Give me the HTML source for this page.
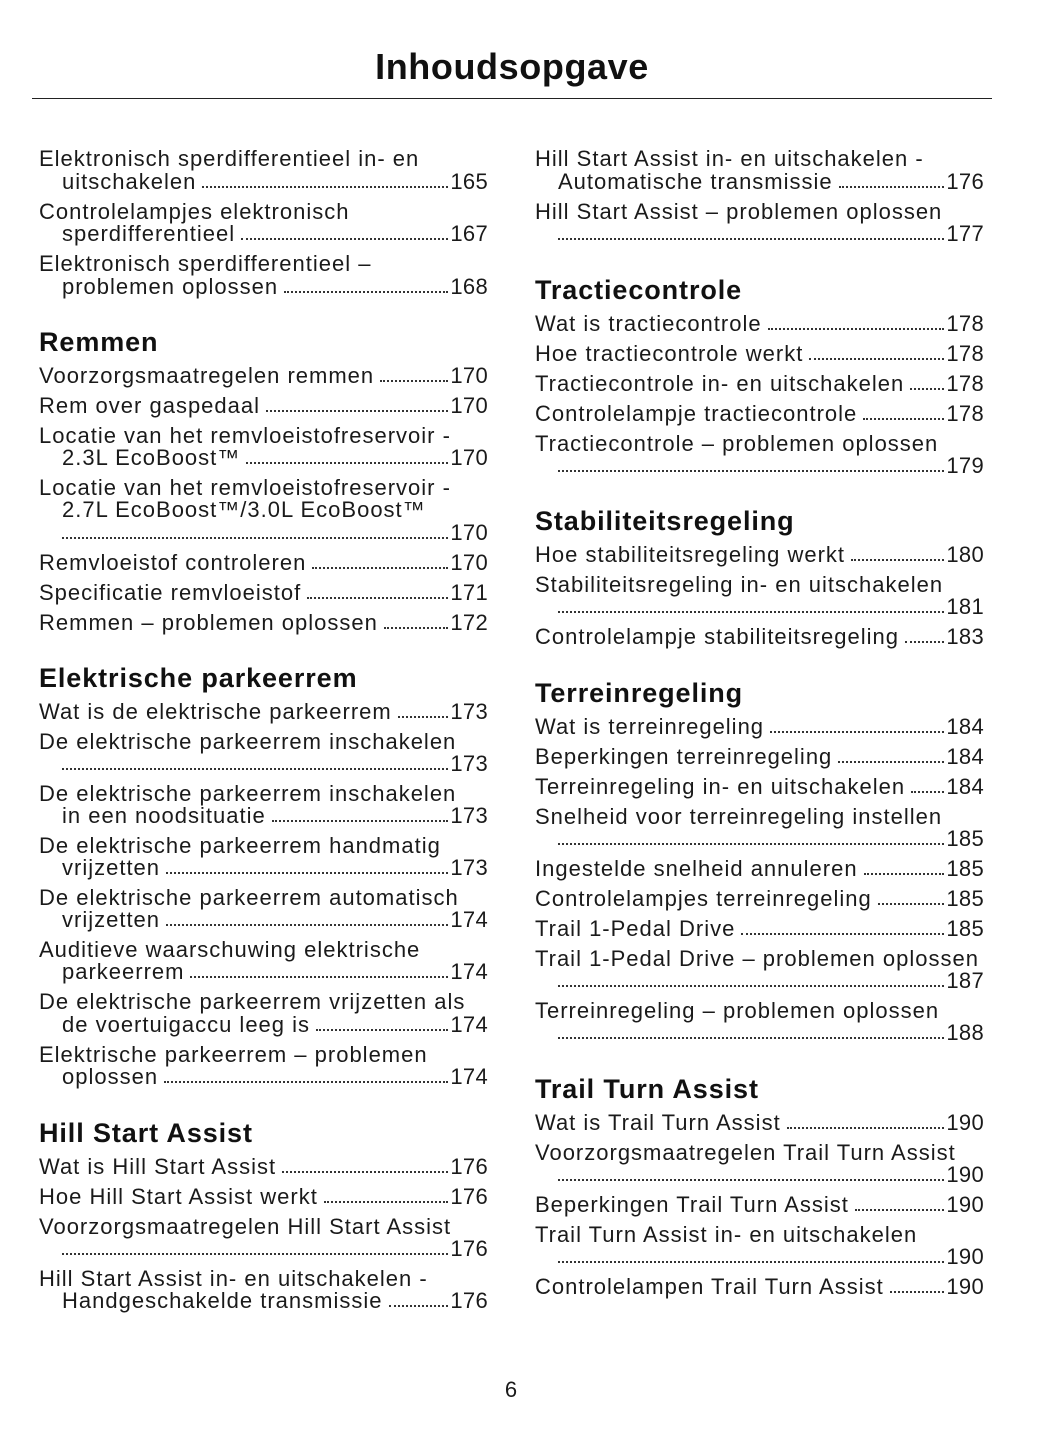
<!DOCTYPE html>
<html><head><meta charset="utf-8"><style>
body{margin:0;width:1055px;height:1448px;background:#fff;position:relative;font-family:"Liberation Sans",sans-serif;color:#1a1a1a;overflow:hidden}
.t{position:absolute;left:0;width:1024px;text-align:center;top:45px;font-size:36px;letter-spacing:0.6px;font-weight:bold;line-height:44px;color:#111}
.rule{position:absolute;left:32px;width:960px;top:98px;height:1px;background:#222}
.l{position:absolute;height:24px;line-height:24px;font-size:22px;letter-spacing:1px;white-space:nowrap;display:flex;width:449px}
.L{left:39px}.R{left:535px}
.in{padding-left:23px;width:426px}
.l span{flex:none}
.l i{flex:1;border-bottom:2px dotted #333;margin:0 2px 6px 6px}
.l b{font-weight:normal;flex:none;letter-spacing:0.3px}
.h{position:absolute;font-size:27px;letter-spacing:0.9px;font-weight:bold;line-height:30px;color:#111}
.pn{position:absolute;left:0;width:1022px;text-align:center;top:1377px;font-size:22px}
</style></head><body>
<div class="t">Inhoudsopgave</div>
<div class="rule"></div>

<div class="l L" style="top:147px">Elektronisch sperdifferentieel in- en</div>
<div class="l L in" style="top:170px"><span>uitschakelen</span><i></i><b>165</b></div>
<div class="l L" style="top:200px">Controlelampjes elektronisch</div>
<div class="l L in" style="top:222px"><span>sperdifferentieel</span><i></i><b>167</b></div>
<div class="l L" style="top:252px">Elektronisch sperdifferentieel –</div>
<div class="l L in" style="top:275px"><span>problemen oplossen</span><i></i><b>168</b></div>
<div class="h" style="left:39px;top:327px">Remmen</div>
<div class="l L" style="top:364px"><span>Voorzorgsmaatregelen remmen</span><i></i><b>170</b></div>
<div class="l L" style="top:394px"><span>Rem over gaspedaal</span><i></i><b>170</b></div>
<div class="l L" style="top:424px">Locatie van het remvloeistofreservoir -</div>
<div class="l L in" style="top:446px"><span>2.3L EcoBoost™</span><i></i><b>170</b></div>
<div class="l L" style="top:476px">Locatie van het remvloeistofreservoir -</div>
<div class="l L in" style="top:498px">2.7L EcoBoost™/3.0L EcoBoost™</div>
<div class="l L in" style="top:521px"><i style="margin-left:0"></i><b>170</b></div>
<div class="l L" style="top:551px"><span>Remvloeistof controleren</span><i></i><b>170</b></div>
<div class="l L" style="top:581px"><span>Specificatie remvloeistof</span><i></i><b>171</b></div>
<div class="l L" style="top:611px"><span>Remmen – problemen oplossen</span><i></i><b>172</b></div>
<div class="h" style="left:39px;top:663px">Elektrische parkeerrem</div>
<div class="l L" style="top:700px"><span>Wat is de elektrische parkeerrem</span><i></i><b>173</b></div>
<div class="l L" style="top:730px">De elektrische parkeerrem inschakelen</div>
<div class="l L in" style="top:752px"><i style="margin-left:0"></i><b>173</b></div>
<div class="l L" style="top:782px">De elektrische parkeerrem inschakelen</div>
<div class="l L in" style="top:804px"><span>in een noodsituatie</span><i></i><b>173</b></div>
<div class="l L" style="top:834px">De elektrische parkeerrem handmatig</div>
<div class="l L in" style="top:856px"><span>vrijzetten</span><i></i><b>173</b></div>
<div class="l L" style="top:886px">De elektrische parkeerrem automatisch</div>
<div class="l L in" style="top:908px"><span>vrijzetten</span><i></i><b>174</b></div>
<div class="l L" style="top:938px">Auditieve waarschuwing elektrische</div>
<div class="l L in" style="top:960px"><span>parkeerrem</span><i></i><b>174</b></div>
<div class="l L" style="top:990px">De elektrische parkeerrem vrijzetten als</div>
<div class="l L in" style="top:1013px"><span>de voertuigaccu leeg is</span><i></i><b>174</b></div>
<div class="l L" style="top:1043px">Elektrische parkeerrem – problemen</div>
<div class="l L in" style="top:1065px"><span>oplossen</span><i></i><b>174</b></div>
<div class="h" style="left:39px;top:1118px">Hill Start Assist</div>
<div class="l L" style="top:1155px"><span>Wat is Hill Start Assist</span><i></i><b>176</b></div>
<div class="l L" style="top:1185px"><span>Hoe Hill Start Assist werkt</span><i></i><b>176</b></div>
<div class="l L" style="top:1215px">Voorzorgsmaatregelen Hill Start Assist</div>
<div class="l L in" style="top:1237px"><i style="margin-left:0"></i><b>176</b></div>
<div class="l L" style="top:1267px">Hill Start Assist in- en uitschakelen -</div>
<div class="l L in" style="top:1289px"><span>Handgeschakelde transmissie</span><i></i><b>176</b></div>

<div class="l R" style="top:147px">Hill Start Assist in- en uitschakelen -</div>
<div class="l R in" style="top:170px"><span>Automatische transmissie</span><i></i><b>176</b></div>
<div class="l R" style="top:200px">Hill Start Assist – problemen oplossen</div>
<div class="l R in" style="top:222px"><i style="margin-left:0"></i><b>177</b></div>
<div class="h" style="left:535px;top:275px">Tractiecontrole</div>
<div class="l R" style="top:312px"><span>Wat is tractiecontrole</span><i></i><b>178</b></div>
<div class="l R" style="top:342px"><span>Hoe tractiecontrole werkt</span><i></i><b>178</b></div>
<div class="l R" style="top:372px"><span>Tractiecontrole in- en uitschakelen</span><i></i><b>178</b></div>
<div class="l R" style="top:402px"><span>Controlelampje tractiecontrole</span><i></i><b>178</b></div>
<div class="l R" style="top:432px">Tractiecontrole – problemen oplossen</div>
<div class="l R in" style="top:454px"><i style="margin-left:0"></i><b>179</b></div>
<div class="h" style="left:535px;top:506px">Stabiliteitsregeling</div>
<div class="l R" style="top:543px"><span>Hoe stabiliteitsregeling werkt</span><i></i><b>180</b></div>
<div class="l R" style="top:573px">Stabiliteitsregeling in- en uitschakelen</div>
<div class="l R in" style="top:595px"><i style="margin-left:0"></i><b>181</b></div>
<div class="l R" style="top:625px"><span>Controlelampje stabiliteitsregeling</span><i></i><b>183</b></div>
<div class="h" style="left:535px;top:678px">Terreinregeling</div>
<div class="l R" style="top:715px"><span>Wat is terreinregeling</span><i></i><b>184</b></div>
<div class="l R" style="top:745px"><span>Beperkingen terreinregeling</span><i></i><b>184</b></div>
<div class="l R" style="top:775px"><span>Terreinregeling in- en uitschakelen</span><i></i><b>184</b></div>
<div class="l R" style="top:805px">Snelheid voor terreinregeling instellen</div>
<div class="l R in" style="top:827px"><i style="margin-left:0"></i><b>185</b></div>
<div class="l R" style="top:857px"><span>Ingestelde snelheid annuleren</span><i></i><b>185</b></div>
<div class="l R" style="top:887px"><span>Controlelampjes terreinregeling</span><i></i><b>185</b></div>
<div class="l R" style="top:917px"><span>Trail 1-Pedal Drive</span><i></i><b>185</b></div>
<div class="l R" style="top:947px">Trail 1-Pedal Drive – problemen oplossen</div>
<div class="l R in" style="top:969px"><i style="margin-left:0"></i><b>187</b></div>
<div class="l R" style="top:999px">Terreinregeling – problemen oplossen</div>
<div class="l R in" style="top:1021px"><i style="margin-left:0"></i><b>188</b></div>
<div class="h" style="left:535px;top:1074px">Trail Turn Assist</div>
<div class="l R" style="top:1111px"><span>Wat is Trail Turn Assist</span><i></i><b>190</b></div>
<div class="l R" style="top:1141px">Voorzorgsmaatregelen Trail Turn Assist</div>
<div class="l R in" style="top:1163px"><i style="margin-left:0"></i><b>190</b></div>
<div class="l R" style="top:1193px"><span>Beperkingen Trail Turn Assist</span><i></i><b>190</b></div>
<div class="l R" style="top:1223px">Trail Turn Assist in- en uitschakelen</div>
<div class="l R in" style="top:1245px"><i style="margin-left:0"></i><b>190</b></div>
<div class="l R" style="top:1275px"><span>Controlelampen Trail Turn Assist</span><i></i><b>190</b></div>

<div class="pn">6</div>
</body></html>
